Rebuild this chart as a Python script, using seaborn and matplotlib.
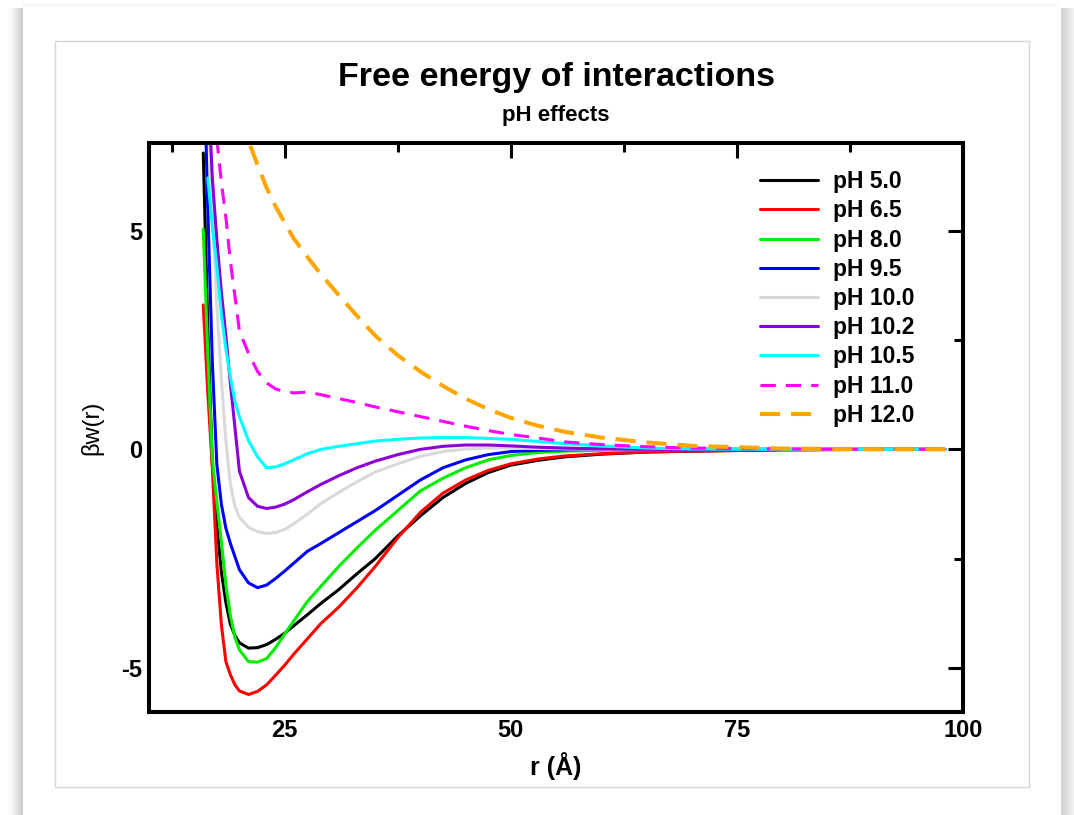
import numpy as np
import pandas as pd
import matplotlib
matplotlib.use("Agg")
import matplotlib.pyplot as plt
from matplotlib.patches import Rectangle
from matplotlib.ticker import FixedLocator
import seaborn as sns

# ---- data: separation r (Å) and free energy βw(r) for each pH ----
r = [16.0, 16.5, 17.0, 17.5, 18.0, 18.5, 19.0, 19.5, 20.0, 21.0, 22.0, 23.0,
     24.0, 25.0, 26.0, 27.5, 29.0, 31.0, 33.0, 35.0, 37.5, 40.0, 42.5, 45.0,
     47.5, 50.0, 53.0, 56.0, 60.0, 65.0, 70.0, 80.0, 90.0, 98.0]

ph_5_0 = [6.77, 2.8, -0.34, -1.7, -2.8, -3.5, -4.0, -4.25, -4.42, -4.54, -4.53, -4.46,
          -4.34, -4.2, -4.03, -3.78, -3.52, -3.2, -2.84, -2.5, -1.98, -1.52, -1.1, -0.78,
          -0.53, -0.36, -0.25, -0.17, -0.11, -0.06, -0.04, -0.01, 0.0, 0.0]
ph_6_5 = [3.3, 1.3, -0.4, -2.6, -4.0, -4.85, -5.15, -5.38, -5.52, -5.6, -5.53, -5.38,
          -5.16, -4.93, -4.68, -4.33, -3.98, -3.6, -3.16, -2.68, -2.02, -1.44, -1.0, -0.7,
          -0.48, -0.33, -0.22, -0.15, -0.1, -0.06, -0.04, -0.01, 0.0, 0.0]
ph_8_0 = [5.03, 2.2, -0.2, -1.2, -2.1, -3.1, -3.8, -4.3, -4.58, -4.85, -4.86, -4.78,
          -4.53, -4.22, -3.92, -3.48, -3.13, -2.67, -2.25, -1.85, -1.4, -0.95, -0.66, -0.42,
          -0.24, -0.14, -0.07, -0.04, -0.02, -0.01, 0.0, 0.0, 0.0, 0.0]
ph_9_5 = [9.5, 5.5, 2.0, -0.34, -1.25, -1.8, -2.15, -2.45, -2.75, -3.05, -3.16, -3.1,
          -2.95, -2.78, -2.6, -2.33, -2.15, -1.9, -1.65, -1.4, -1.05, -0.7, -0.42, -0.24,
          -0.12, -0.05, -0.02, -0.01, 0.0, 0.0, 0.0, 0.0, 0.0, 0.0]
ph_10_0 = [12.0, 8.0, 5.5, 3.3, 1.6, 0.2, -0.8, -1.3, -1.55, -1.78, -1.88, -1.92,
           -1.9, -1.83, -1.7, -1.48, -1.24, -0.98, -0.74, -0.52, -0.33, -0.16, -0.05, 0.01,
           0.03, 0.03, 0.02, 0.01, 0.0, 0.0, 0.0, 0.0, 0.0, 0.0]
ph_10_2 = [14.0, 8.5, 6.2, 4.8, 3.6, 2.6, 1.5, 0.5, -0.5, -1.1, -1.3, -1.35,
           -1.32, -1.25, -1.15, -0.97, -0.8, -0.6, -0.42, -0.27, -0.12, 0.0, 0.07, 0.1,
           0.1, 0.08, 0.05, 0.03, 0.01, 0.0, 0.0, 0.0, 0.0, 0.0]
ph_10_5 = [np.nan, 6.2, 5.1, 4.2, 3.1, 2.3, 1.65, 1.1, 0.75, 0.2, -0.17, -0.42,
           -0.4, -0.33, -0.24, -0.1, 0.0, 0.07, 0.13, 0.19, 0.23, 0.26, 0.27, 0.27,
           0.25, 0.23, 0.18, 0.13, 0.08, 0.03, 0.01, 0.0, 0.0, 0.0]
ph_11_0 = [np.nan, 10.0, 8.3, 7.1, 6.1, 5.3, 4.3, 3.5, 2.7, 2.2, 1.78, 1.52,
           1.38, 1.32, 1.29, 1.31, 1.25, 1.16, 1.07, 0.97, 0.86, 0.75, 0.64, 0.53,
           0.43, 0.34, 0.26, 0.17, 0.11, 0.06, 0.03, 0.01, 0.0, 0.0]
ph_12_0 = [np.nan, np.nan, np.nan, np.nan, np.nan, np.nan, np.nan, np.nan, 7.6, 7.05, 6.5, 5.98,
           5.55, 5.18, 4.82, 4.4, 4.0, 3.52, 3.05, 2.6, 2.15, 1.78, 1.45, 1.16,
           0.92, 0.72, 0.54, 0.4, 0.27, 0.16, 0.08, 0.02, 0.0, 0.0]

labels = ["pH 5.0", "pH 6.5", "pH 8.0", "pH 9.5", "pH 10.0",
          "pH 10.2", "pH 10.5", "pH 11.0", "pH 12.0"]
colors = ["#000000", "#ff0000", "#00ee00", "#0000ff", "#d9d9d9",
          "#8a00d6", "#00ffff", "#ff00ff", "#ffa500"]

series = [ph_5_0, ph_6_5, ph_8_0, ph_9_5, ph_10_0, ph_10_2, ph_10_5, ph_11_0, ph_12_0]

# ---- styling ----
sns.set_style("white")
plt.rcParams["font.family"] = ["Liberation Sans", "DejaVu Sans"]
plt.rcParams["text.color"] = "black"
plt.rcParams["axes.labelcolor"] = "black"
plt.rcParams["xtick.color"] = "black"
plt.rcParams["ytick.color"] = "black"
plt.rcParams["axes.unicode_minus"] = False

W, H = 1074, 815
fig = plt.figure(figsize=(W / 100, H / 100), dpi=100)

# page background with soft drop shadow on both sides
bg = np.ones((H, W, 3))
for x in range(6, 23):
    t = (x - 6) / 16.0
    bg[8:, x, :] = 1.0 - 0.20 * t ** 1.5
for x in range(1061, W):
    t = 1.0 - (x - 1061) / 18.0
    bg[8:, x, :] = 1.0 - 0.18 * t
for y in range(0, 7):
    bg[y, 22:1061, :] = 1.0 - 0.03 * (y / 6.0)
fig.figimage(bg, 0, 0, origin="upper", zorder=-10)

# thin frame around the chart panel
fig.add_artist(Rectangle((55 / W, 1 - 787 / H), (1029 - 55) / W, (787 - 41) / H,
                         transform=fig.transFigure, fill=False,
                         edgecolor="#d6d6d6", linewidth=1.0, zorder=-5))

ax = fig.add_axes([149 / W, 1 - 712 / H, (963 - 149) / W, (712 - 143) / H])
ax.set_facecolor("white")

r_arr = np.asarray(r)
for vals, lab, col in zip(series, labels, colors):
    v = np.asarray(vals, dtype=float)
    m = ~np.isnan(v)
    kw = dict(color=col, linewidth=2.2, label=lab)
    if lab == "pH 11.0":
        kw["linestyle"] = (0, (5.0, 3.3))
    elif lab == "pH 12.0":
        kw["linewidth"] = 2.9
        kw["linestyle"] = (0, (5.0, 2.7))
    sns.lineplot(x=r_arr[m], y=v[m], ax=ax, **kw)

ax.set_xlim(10, 100)
ax.set_ylim(-6, 7)

ax.xaxis.set_major_locator(FixedLocator([25, 50, 75, 100]))
ax.xaxis.set_minor_locator(FixedLocator([12.5, 37.5, 62.5, 87.5]))
ax.yaxis.set_major_locator(FixedLocator([-5, 0, 5]))
ax.yaxis.set_minor_locator(FixedLocator([-2.5, 2.5]))

ax.tick_params(which="both", direction="in", top=True, right=True,
               color="black", width=2.2)
ax.tick_params(which="major", length=10.8, labelsize=17, pad=5)
ax.tick_params(which="minor", length=6.5)
for lbl in ax.get_xticklabels() + ax.get_yticklabels():
    lbl.set_fontweight("bold")

for sp in ax.spines.values():
    sp.set_linewidth(2.9)
    sp.set_color("black")

ax.set_xlabel("r (Å)", fontsize=18, fontweight="bold", labelpad=7)
ax.set_ylabel("βw(r)", fontsize=17, color="black")
ax.yaxis.set_label_coords((103 - 149) / (963 - 149), 0.5)

leg = ax.legend(loc="upper left", bbox_to_anchor=(0.7506, 0.952),
                frameon=False, borderaxespad=0, borderpad=0,
                handlelength=2.55, handletextpad=0.65, labelspacing=0.27,
                prop={"weight": "bold", "size": 16.5})
for t in leg.get_texts():
    t.set_color("black")

fig.text(556 / W, 1 - 86 / H, "Free energy of interactions", ha="center",
         va="baseline", fontsize=24.5, fontweight="bold", color="black")
fig.text(556 / W, 1 - 121 / H, "pH effects", ha="center", va="baseline",
         fontsize=16, fontweight="bold", color="black")

fig.savefig("out.png", dpi=100)
